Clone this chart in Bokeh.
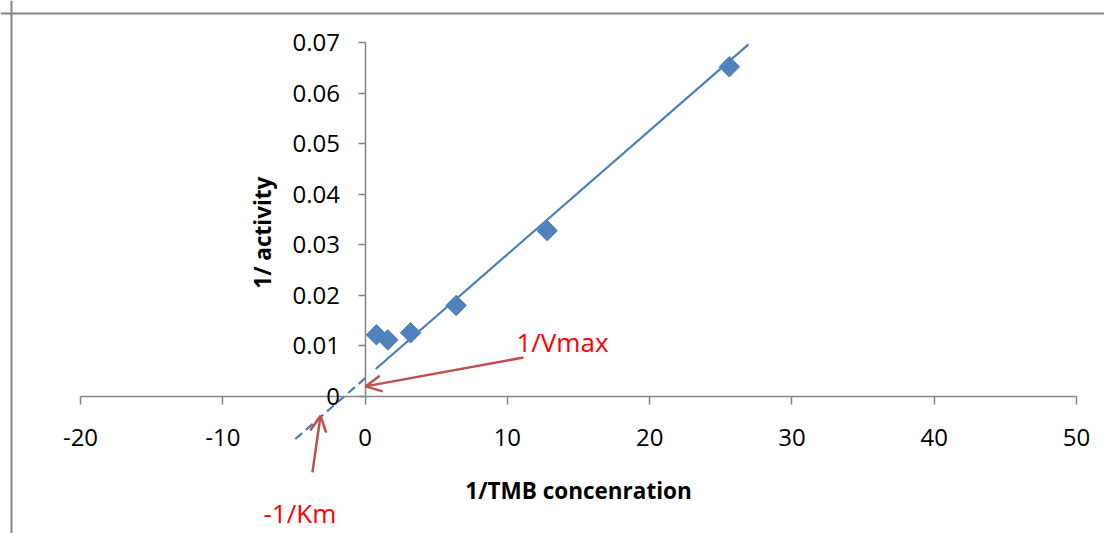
import math
from bokeh.plotting import figure
from bokeh.models import LinearAxis, FixedTicker, Arrow, OpenHead, Label, Span, Range1d
from bokeh.embed import file_html
from bokeh.resources import INLINE

# ---- data ----
inv_tmb = [0.8, 1.6, 3.2, 6.4, 12.8, 25.6]
inv_activity = [0.0122, 0.0112, 0.0126, 0.0180, 0.0328, 0.0652]

trend_slope = 0.00245
trend_intercept = 0.0036
trend_solid_x = [0.75, 26.95]
trend_dash_x = [-4.9, 0.2]

x_ticks = [-20, -10, 0, 10, 20, 30, 40, 50]
x_tick_labels = ["-20", "-10", "0", "10", "20", "30", "40", "50"]
y_ticks = [0.0, 0.01, 0.02, 0.03, 0.04, 0.05, 0.06, 0.07]
y_tick_labels = ["0", "0.01", "0.02", "0.03", "0.04", "0.05", "0.06", "0.07"]

x_title = "1/TMB concenration"
y_title = "1/ activity"
vmax_label = "1/Vmax"
km_label = "-1/Km"

# annotation arrows (tail -> head), data units
vmax_arrow = [11.13, 0.0077, 0.03, 0.0020]
km_arrow = [-3.70, -0.0150, -3.13, -0.0038]

# ---- layout ----
W, H = 1104, 533
kx = 996 / 70.0          # px per x unit
ky = 354 / 0.07          # px per y unit
x0 = -20 - 80 / kx
x1 = 50 + (W - 1076) / kx
y1 = 396 / ky
y0 = -(H - 396) / ky

p = figure(width=W, height=H, output_backend="svg", toolbar_location=None,
           x_range=Range1d(x0, x1), y_range=Range1d(y0, y1),
           x_axis_location=None, y_axis_location=None,
           min_border=0, min_border_left=0, min_border_right=0,
           min_border_top=0, min_border_bottom=0)
p.outline_line_color = None
p.background_fill_color = "white"
p.border_fill_color = "white"
for g in p.grid:
    g.visible = False

FONT = "Open Sans"
AX = "#868686"

xaxis = LinearAxis(fixed_location=0, ticker=FixedTicker(ticks=x_ticks),
                   major_label_overrides=dict(zip(x_ticks, x_tick_labels)),
                   bounds=(x_ticks[0], x_ticks[-1]))
xaxis.major_tick_in = 0
xaxis.major_tick_out = 8
xaxis.minor_tick_line_color = None
xaxis.axis_line_color = AX
xaxis.axis_line_width = 1.5
xaxis.major_tick_line_color = AX
xaxis.major_tick_line_width = 1.5
xaxis.major_label_standoff = 24
xaxis.major_label_text_font = FONT
xaxis.major_label_text_font_size = "24px"
xaxis.major_label_text_color = "black"
p.add_layout(xaxis, "below")

yaxis = LinearAxis(fixed_location=0, ticker=FixedTicker(ticks=y_ticks),
                   major_label_overrides=dict(zip(y_ticks, y_tick_labels)),
                   bounds=(y_ticks[0], y_ticks[-1]))
yaxis.major_tick_in = 0
yaxis.major_tick_out = 7
yaxis.minor_tick_line_color = None
yaxis.axis_line_color = AX
yaxis.axis_line_width = 1.5
yaxis.major_tick_line_color = AX
yaxis.major_tick_line_width = 1.5
yaxis.major_label_standoff = 18
yaxis.major_label_text_font = FONT
yaxis.major_label_text_font_size = "24px"
yaxis.major_label_text_color = "black"
p.add_layout(yaxis, "left")

# chart border (left and top edges visible)
p.add_layout(Span(location=x0 + 11 / kx, dimension="height", line_color=AX, line_width=2))
p.add_layout(Span(location=y1 - 13 / ky, dimension="width", line_color=AX, line_width=2))

# trendline
LINE = "#4A7EBB"
p.line(trend_solid_x, [trend_intercept + trend_slope * x for x in trend_solid_x],
       line_color=LINE, line_width=2.2)
p.line(trend_dash_x, [trend_intercept + trend_slope * x for x in trend_dash_x],
       line_color=LINE, line_width=2.2, line_dash="9 5")

# data points (diamonds)
p.scatter(inv_tmb, inv_activity, marker="square", size=14.5, angle=math.pi / 4,
          fill_color="#4F81BD", line_color="#4F81BD")

# arrows
RED_ARROW = "#C0504D"
for a in (vmax_arrow, km_arrow):
    p.add_layout(Arrow(x_start=a[0], y_start=a[1], x_end=a[2], y_end=a[3],
                       line_color=RED_ARROW, line_width=2.5,
                       end=OpenHead(size=16, line_color=RED_ARROW, line_width=2.5)))

# labels
p.add_layout(Label(x=10.64, y=0.0107, text=vmax_label, text_color="#FF0000",
                   text_font=FONT, text_font_size="26px", text_align="left",
                   text_baseline="alphabetic"))
p.add_layout(Label(x=-7.14, y=-0.0231, text=km_label, text_color="#FF0000",
                   text_font=FONT, text_font_size="26px", text_align="left",
                   text_baseline="alphabetic"))
p.add_layout(Label(x=15.0, y=-0.0186, text=x_title, text_color="black",
                   text_font=FONT, text_font_size="22.5px", text_font_style="bold",
                   text_align="center", text_baseline="middle"))
p.add_layout(Label(x=-7.21, y=0.0324, text=y_title, text_color="black",
                   text_font=FONT, text_font_size="22.5px", text_font_style="bold",
                   text_align="center", text_baseline="middle", angle=math.pi / 2))

open("out.html", "w").write(file_html(p, INLINE))
